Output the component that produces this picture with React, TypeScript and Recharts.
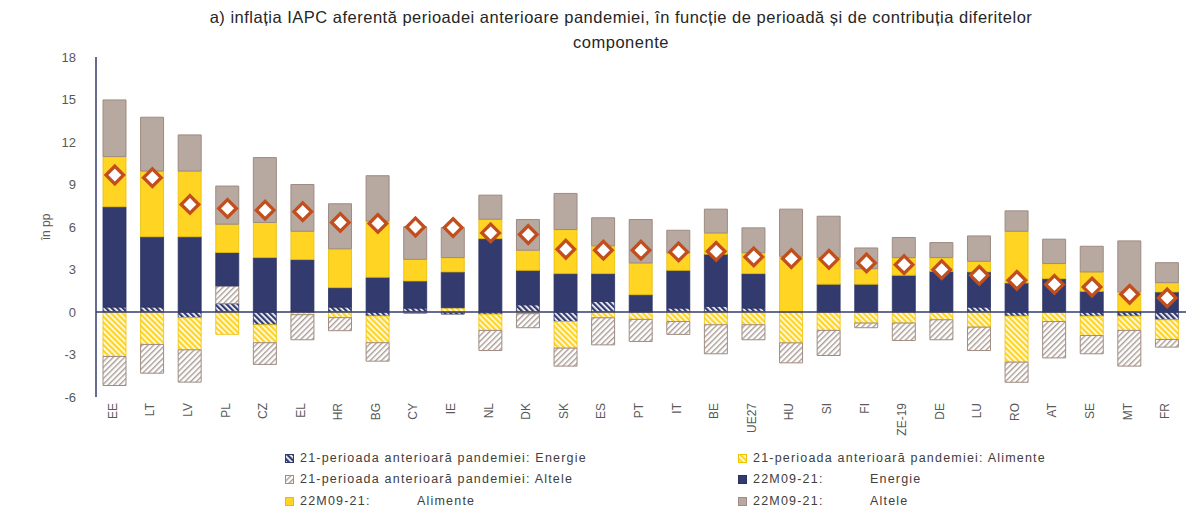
import React from 'react';
import { ComposedChart, Bar, Line, XAxis, YAxis, ReferenceLine, Legend } from 'recharts';

const categories = ['EE','LT','LV','PL','CZ','EL','HR','BG','CY','IE','NL','DK','SK','ES','PT','IT','BE','UE27','HU','SI','FI','ZE-19','DE','LU','RO','AT','SE','MT','FR'];

// 21 - perioada anterioară pandemiei (hașurat)
const preEnergy = [0.35,0.35,-0.4,0.59,-0.9,0,0.35,-0.28,0.28,-0.15,-0.15,0.51,-0.67,0.75,0,0.28,0.4,0.28,0,0,0,0,0,0.35,-0.29,0,-0.29,-0.29,-0.55];
const preFood = [-3.14,-2.29,-2.27,-1.58,-1.27,-0.19,-0.4,-1.89,0,0.3,-1.15,-0.12,-1.88,-0.41,-0.52,-0.67,-0.9,-0.9,-2.18,-1.3,-0.78,-0.78,-0.55,-1.07,-3.25,-0.67,-1.37,-1.01,-1.39];
const preOther = [-2.05,-2.03,-2.28,1.25,-1.53,-1.77,-0.92,-1.3,-0.1,0,-1.42,-0.99,-1.27,-1.91,-1.56,-0.91,-2.05,-1.06,-1.41,-1.77,-0.33,-1.23,-1.41,-1.65,-1.42,-2.57,-1.29,-2.52,-0.54];

// 22M09-21 (plin)
const curEnergy = [7.08,4.96,5.31,2.36,3.84,3.7,1.37,2.45,1.91,2.53,5.18,2.43,2.71,1.96,1.22,2.66,3.68,2.43,0,1.96,1.96,2.59,2.87,2.48,2.05,2.35,1.46,0,1.41];
const curFood = [3.54,4.64,4.64,2.0,2.48,2.0,2.74,3.97,1.53,1.01,1.37,1.42,3.11,1.96,2.24,1.23,1.5,1.48,3.93,1.88,1.1,1.25,0.97,0.75,3.65,1.07,1.37,1.41,0.66];
const curOther = [4.0,3.8,2.55,2.69,4.58,3.3,3.18,3.2,2.3,2.12,1.7,2.17,2.55,1.98,3.07,1.6,1.68,1.75,3.33,2.92,1.46,1.42,1.06,1.79,1.44,1.72,1.81,3.61,1.41];

// inflația IAPC aferentă perioadei anterioare pandemiei (romb)
const total = [9.67,9.48,7.59,7.31,7.19,7.08,6.32,6.25,6.0,5.96,5.58,5.47,4.43,4.36,4.36,4.24,4.28,3.89,3.77,3.72,3.46,3.34,2.99,2.59,2.24,1.95,1.76,1.25,0.99];

const yTicks = [-6,-3,0,3,6,9,12,15,18];

const data = categories.map((cat, i) => ({
  cat,
  preEnergy: preEnergy[i],
  preFood: preFood[i],
  preOther: preOther[i],
  curEnergy: curEnergy[i],
  curFood: curFood[i],
  curOther: curOther[i],
  total: total[i],
}));

const NAVY = '#333B6E';
const YELLOW = '#FFD422';
const TAUPE = '#B7A8A0';
const FONT = '"Liberation Sans", Arial, sans-serif';

const legendItems = [
  { col: 0, row: 0, a: '21-perioada anterioară pandemiei: Energie', b: '', fill: 'url(#hEnergy)', stroke: NAVY },
  { col: 1, row: 0, a: '21-perioada anterioară pandemiei: Alimente', b: '', fill: 'url(#hFood)', stroke: '#EDC200' },
  { col: 0, row: 1, a: '21-perioada anterioară pandemiei: Altele', b: '', fill: 'url(#hOther)', stroke: '#A08C83' },
  { col: 1, row: 1, a: '22M09-21:', b: 'Energie', fill: NAVY, stroke: '#2A3162' },
  { col: 0, row: 2, a: '22M09-21:', b: 'Alimente', fill: YELLOW, stroke: '#E6BE00' },
  { col: 1, row: 2, a: '22M09-21:', b: 'Altele', fill: TAUPE, stroke: '#9E8B82' },
];

const colX = [285, 738];
const rowY = [14, 35, 57];

const renderLegend = () => (
  <div style={{ position: 'relative', width: 1186, height: 70, fontFamily: FONT, fontSize: 12.5, color: '#404040', letterSpacing: 1.2 }}>
    {legendItems.map((it, i) => (
      <div key={i} style={{ position: 'absolute', left: colX[it.col], top: rowY[it.row] - 8, height: 16, width: 420 }}>
        <svg width={9} height={9} style={{ position: 'absolute', left: 0, top: 4 }}>
          <rect x={0.5} y={0.5} width={8} height={8} fill={it.fill} stroke={it.stroke} strokeWidth={1} />
        </svg>
        <span style={{ position: 'absolute', left: 15, top: 0, lineHeight: '16px', whiteSpace: 'nowrap' }}>{it.a}</span>
        {it.b ? (
          <span style={{ position: 'absolute', left: 132, top: 0, lineHeight: '16px', whiteSpace: 'nowrap' }}>{it.b}</span>
        ) : null}
      </div>
    ))}
  </div>
);

const Diamond = (props: any) => {
  const { cx, cy, index } = props;
  if (cx == null || cy == null || isNaN(cy)) return <g key={index} />;
  const r = 8.8;
  return (
    <polygon
      key={index}
      points={`${cx},${cy - r} ${cx + r},${cy} ${cx},${cy + r} ${cx - r},${cy}`}
      fill="#FFFFFF"
      stroke="#C24E1E"
      strokeWidth={3.3}
    />
  );
};

const XTick = (props: any) => {
  const { x, y, payload } = props;
  const tx = x + 2;
  const ty = y + 6;
  return (
    <text x={tx} y={ty} transform={`rotate(-90, ${tx}, ${ty})`} textAnchor="end" fill="#595959" fontSize={12} fontFamily={FONT}>
      {payload.value}
    </text>
  );
};

const YLabel = (props: any) => {
  const vb = props.viewBox || { x: 0, y: 57, width: 96, height: 340 };
  const x = vb.x + 50;
  const y = vb.y + vb.height / 2;
  return (
    <text x={x} y={y} transform={`rotate(-90, ${x}, ${y})`} textAnchor="middle" fill="#595959" fontSize={12} fontFamily={FONT}>
      în pp
    </text>
  );
};

export default function App() {
  return (
    <div style={{ position: 'absolute', left: 0, top: 0, width: 1204, height: 514, background: '#fff' }}>
      <div
        style={{
          position: 'absolute',
          left: 171,
          top: 5,
          width: 900,
          textAlign: 'center',
          fontFamily: FONT,
          fontSize: 16.5,
          letterSpacing: 0.5,
          lineHeight: '25px',
          color: '#262626',
        }}
      >
        a) inflația IAPC aferentă perioadei anterioare pandemiei, în funcție de perioadă și de contribuția diferitelor
        <br />
        componente
      </div>
      <ComposedChart
        width={1204}
        height={514}
        data={data}
        stackOffset="sign"
        margin={{ top: 57, right: 18, bottom: 0, left: 0 }}
        barSize={23}
      >
        <defs>
          <pattern id="hEnergy" patternUnits="userSpaceOnUse" width="4" height="4" patternTransform="rotate(-45)">
            <rect width="4" height="4" fill="#FFFFFF" />
            <rect width="2.3" height="4" fill={NAVY} />
          </pattern>
          <pattern id="hFood" patternUnits="userSpaceOnUse" width="4" height="4" patternTransform="rotate(-45)">
            <rect width="4" height="4" fill="#FFFFFF" />
            <rect width="2.4" height="4" fill={YELLOW} />
          </pattern>
          <pattern id="hOther" patternUnits="userSpaceOnUse" width="4" height="4" patternTransform="rotate(45)">
            <rect width="4" height="4" fill="#FFFFFF" />
            <rect width="1.4" height="4" fill="#A99C95" />
          </pattern>
        </defs>
        <XAxis
          dataKey="cat"
          interval={0}
          tickLine={false}
          axisLine={false}
          tickSize={0}
          tickMargin={0}
          height={47}
          tick={<XTick />}
        />
        <YAxis
          domain={[-6, 18]}
          ticks={yTicks}
          interval={0}
          width={96}
          tickLine={false}
          axisLine={{ stroke: NAVY, strokeWidth: 1.5 }}
          tick={{ fill: '#595959', fontSize: 13, fontFamily: FONT }}
          tickMargin={14}
          label={{ content: <YLabel />, position: 'insideLeft' }}
        />
        <Legend verticalAlign="bottom" content={renderLegend} />
        <Bar dataKey="preEnergy" stackId="s" fill="url(#hEnergy)" stroke={NAVY} strokeWidth={0.8} isAnimationActive={false} />
        <Bar dataKey="preFood" stackId="s" fill="url(#hFood)" stroke="#EDC200" strokeWidth={0.8} isAnimationActive={false} />
        <Bar dataKey="preOther" stackId="s" fill="url(#hOther)" stroke="#A08C83" strokeWidth={1} isAnimationActive={false} />
        <Bar dataKey="curEnergy" stackId="s" fill={NAVY} stroke="#2A3162" strokeWidth={0.8} isAnimationActive={false} />
        <Bar dataKey="curFood" stackId="s" fill={YELLOW} stroke="#E6BE00" strokeWidth={0.8} isAnimationActive={false} />
        <Bar dataKey="curOther" stackId="s" fill={TAUPE} stroke="#9E8B82" strokeWidth={1} isAnimationActive={false} />
        <ReferenceLine y={0} stroke={NAVY} strokeWidth={1.5} />
        <Line dataKey="total" stroke="none" dot={<Diamond />} activeDot={false} legendType="none" isAnimationActive={false} />
      </ComposedChart>
    </div>
  );
}
